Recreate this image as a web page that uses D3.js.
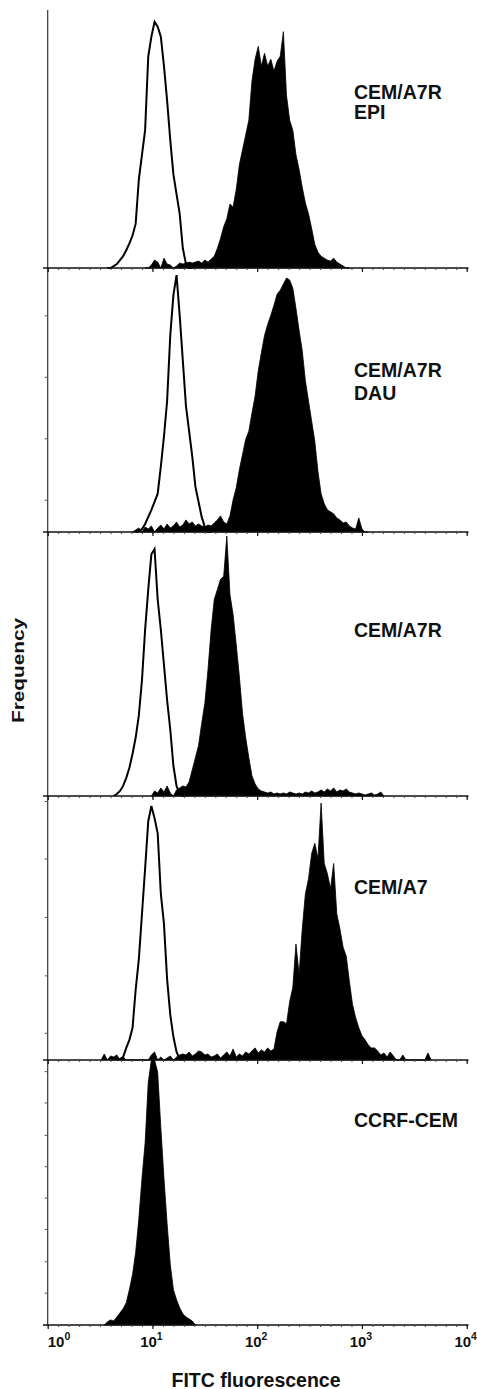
<!DOCTYPE html>
<html>
<head>
<meta charset="utf-8">
<script src="https://cdn.jsdelivr.net/npm/d3@7"></script>
<style>
  body { margin: 0; background: #fff; }
  text { font-family: "Liberation Sans", Arial, sans-serif; font-weight: bold; fill: #111; }
</style>
</head>
<body>
<script>
// bin width on the log10 axis (decades)
const step = 0.03;

// panel names, top to bottom
const panelNames = [["CEM/A7R", "EPI"], ["CEM/A7R", "DAU"], ["CEM/A7R"], ["CEM/A7"], ["CCRF-CEM"]];

// each histogram: first bin (log10 of fluorescence) + counts per bin
const epiCtrlStart = 0.60;
const epiCtrl = [0, 2, 4, 8, 12, 18, 25, 33, 45, 90, 115, 140, 215, 235, 250, 245, 235, 205, 170, 130, 95, 75, 55, 20, 4, 0];
const epiStainStart = 0.96;
const epiStain = [0, 3, 8, 6, 0, 10, 4, 3, 0, 2, 5, 4, 5, 6, 5, 6, 7, 5, 8, 6, 9, 12, 20, 30, 42, 50, 65, 62, 80, 105,
  120, 135, 150, 190, 212, 225, 205, 218, 205, 212, 200, 210, 215, 240, 175, 150, 140, 115, 100, 82, 66, 55, 40, 24,
  16, 12, 10, 8, 7, 10, 6, 4, 2, 0];

const dauCtrlStart = 0.87;
const dauCtrl = [1, 3, 8, 15, 22, 30, 38, 65, 95, 130, 195, 235, 255, 215, 170, 125, 100, 75, 45, 30, 15, 5, 0];
const dauStainStart = 0.84;
const dauStain = [2, 4, 0, 5, 3, 6, 0, 4, 7, 3, 8, 4, 6, 10, 5, 7, 12, 8, 10, 6, 8, 6, 5, 7, 6, 9, 12, 16, 10, 8, 16,
  32, 44, 62, 77, 92, 100, 118, 135, 160, 178, 195, 206, 215, 225, 236, 240, 246, 252, 250, 242, 222, 200, 180, 150,
  130, 110, 90, 60, 38, 28, 22, 20, 18, 14, 12, 9, 10, 6, 4, 3, 14, 3, 0];

const a7rCtrlStart = 0.66;
const a7rCtrl = [2, 5, 10, 18, 28, 42, 58, 80, 115, 165, 205, 240, 245, 195, 165, 130, 95, 66, 30, 10, 2, 0];
const a7rStainStart = 1.02;
const a7rStain = [5, 3, 8, 4, 10, 3, 0, 6, 8, 10, 9, 14, 26, 38, 50, 72, 92, 125, 165, 195, 205, 215, 218, 258, 200,
  180, 150, 118, 82, 58, 38, 20, 12, 7, 5, 4, 3, 4, 2, 3, 2, 3, 2, 4, 3, 2, 3, 2, 4, 3, 5, 3, 4, 6, 4, 7, 5, 8, 4, 6,
  5, 7, 4, 3, 2, 3, 2, 1, 2, 3, 1, 2, 4];

const a7CtrlStart = 0.69;
const a7Ctrl = [1, 3, 12, 20, 32, 70, 100, 145, 190, 237, 252, 240, 225, 165, 135, 80, 45, 23, 8, 1];
const a7StainStart = 0.54;
const a7Stain = [6, 0, 4, 3, 5, 0, 3, 0, 0, 0, 0, 0, 0, 0, 0, 5, 8, 0, 3, 0, 2, 4, 0, 3, 5, 6, 5, 8, 4, 6, 9, 8, 5, 6,
  3, 4, 6, 2, 5, 8, 4, 11, 3, 6, 4, 8, 6, 9, 12, 7, 10, 8, 12, 9, 11, 28, 38, 38, 36, 58, 72, 115, 85, 130, 165, 180,
  205, 215, 200, 255, 195, 185, 170, 195, 145, 130, 112, 103, 78, 55, 42, 32, 24, 20, 15, 12, 12, 9, 5, 7, 3, 8, 4,
  0, 0, 5, 0, 0, 0, 0, 0, 0, 0, 7];

const ccrfStainStart = 0.57;
const ccrfStain = [3, 5, 4, 8, 12, 16, 22, 35, 50, 72, 105, 145, 180, 240, 262, 262, 250, 195, 145, 100, 60, 35, 25,
  17, 11, 8, 6, 4];

// axis ticks
const decadeTicks = [1, 10, 100, 1000, 10000];
const decadeExp = ["0", "1", "2", "3", "4"];
const countTicks = [[], [32, 93, 154, 215], [], [27, 84, 142, 200, 257], [32, 63, 95, 126, 157, 188, 220, 251]];

const controls = [[epiCtrlStart, epiCtrl], [dauCtrlStart, dauCtrl], [a7rCtrlStart, a7rCtrl], [a7CtrlStart, a7Ctrl], null];
const stained = [[epiStainStart, epiStain], [dauStainStart, dauStain], [a7rStainStart, a7rStain],
  [a7StainStart, a7Stain], [ccrfStainStart, ccrfStain]];

// layout
const width = 477, height = 1389;
const panelTop = [10, 268, 532, 796, 1060];
const panelBase = [268, 532, 796, 1060, 1325];
const labelY = [[98.5, 118.5], [377, 400], [637], [894], [1127]];

const svg = d3.select("body").append("svg")
  .attr("width", width)
  .attr("height", height);

const x = d3.scaleLog().domain([1, 10000]).range([47.7, 466.7]);

const minorTicks = d3.range(0, 40.5, 1).map((i) => Math.pow(10, i / 10));

function bins(start, counts) {
  const pts = counts.map((c, i) => ({ v: Math.pow(10, start + i * step), c: c }));
  pts.unshift({ v: Math.pow(10, start - step), c: 0 });
  pts.push({ v: Math.pow(10, start + counts.length * step), c: 0 });
  return pts;
}

// left frame line
svg.append("line")
  .attr("x1", 47.7).attr("x2", 47.7)
  .attr("y1", panelTop[0]).attr("y2", panelBase[4])
  .attr("stroke", "#333").attr("stroke-width", 1.2);

panelNames.forEach((names, p) => {
  const y = d3.scaleLinear().domain([0, 262]).range([panelBase[p], panelTop[p]]);
  const g = svg.append("g");

  // filled histogram (antibody)
  const area = d3.area()
    .x((d) => x(d.v))
    .y0(panelBase[p])
    .y1((d) => y(d.c));
  g.append("path")
    .datum(bins(stained[p][0], stained[p][1]))
    .attr("d", area)
    .attr("fill", "#000")
    .attr("stroke", "#000")
    .attr("stroke-width", 0.8)
    .attr("stroke-linejoin", "miter");

  // open histogram (control)
  if (controls[p]) {
    const line = d3.line()
      .x((d) => x(d.v))
      .y((d) => y(d.c));
    g.append("path")
      .datum(bins(controls[p][0], controls[p][1]))
      .attr("d", line)
      .attr("fill", "none")
      .attr("stroke", "#000")
      .attr("stroke-width", 2);
  }

  // baseline
  g.append("line")
    .attr("x1", 43).attr("x2", 468.5)
    .attr("y1", panelBase[p]).attr("y2", panelBase[p])
    .attr("stroke", "#111").attr("stroke-width", 1.3);

  const minorAxis = g.append("g")
    .attr("transform", `translate(0,${panelBase[p]})`)
    .call(d3.axisBottom(x).tickValues(minorTicks).tickSize(2).tickFormat(""));
  minorAxis.select(".domain").remove();
  minorAxis.selectAll("line").attr("stroke", "#444");

  const majorAxis = g.append("g")
    .attr("transform", `translate(0,${panelBase[p]})`)
    .call(d3.axisBottom(x).tickValues(decadeTicks).tickSize(4).tickFormat(""));
  majorAxis.select(".domain").remove();
  majorAxis.selectAll("line").attr("stroke", "#111").attr("stroke-width", 1.2);

  const yAxis = g.append("g")
    .attr("transform", "translate(47.7,0)")
    .call(d3.axisLeft(y).tickValues(countTicks[p]).tickSize(3).tickFormat(""));
  yAxis.select(".domain").remove();
  yAxis.selectAll("line").attr("stroke", "#555");

  // panel label
  g.selectAll("text.name")
    .data(names)
    .enter()
    .append("text")
    .attr("class", "name")
    .attr("x", 354)
    .attr("y", (d, i) => labelY[p][i])
    .attr("font-size", 19.5)
    .text((d) => d);
});

// decade tick labels
const tickLabels = svg.selectAll("text.tick-label")
  .data(decadeTicks)
  .enter()
  .append("text")
  .attr("class", "tick-label")
  .attr("x", (d, i) => (i === 0 ? x(d) : x(d) - 1))
  .attr("y", 1346.5)
  .attr("text-anchor", (d, i) => (i === 0 ? "start" : "middle"))
  .attr("font-size", 15);
tickLabels.append("tspan").text("10");
tickLabels.append("tspan")
  .attr("dy", -7)
  .attr("font-size", 10.5)
  .text((d, i) => decadeExp[i]);

// axis titles
svg.append("text")
  .attr("x", 256)
  .attr("y", 1386.5)
  .attr("text-anchor", "middle")
  .attr("font-size", 19.5)
  .text("FITC fluorescence");

svg.append("text")
  .attr("transform", "translate(24,670.5) rotate(-90)")
  .attr("text-anchor", "middle")
  .attr("font-size", 16)
  .attr("textLength", 105)
  .attr("lengthAdjust", "spacingAndGlyphs")
  .text("Frequency");
</script>
</body>
</html>
